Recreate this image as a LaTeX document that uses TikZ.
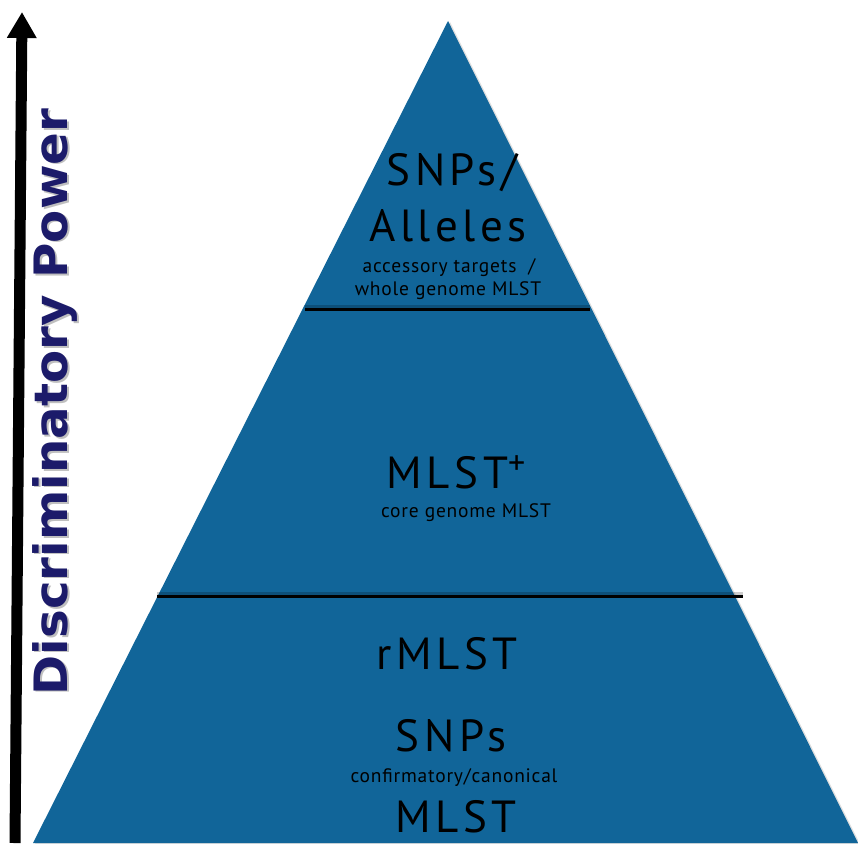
\documentclass[tikz,border=0pt]{standalone}
\usepackage{fontspec}
\setmainfont{PT Sans}
\newfontfamily\bigf[LetterSpace=10]{PT Sans}
\newfontfamily\smallf[LetterSpace=4]{PT Sans}
\newfontfamily\dpf{DejaVu Sans}
\usetikzlibrary{arrows.meta}
\definecolor{pyr}{RGB}{17,101,153}
\definecolor{navy}{RGB}{28,27,106}
\begin{document}
\begin{tikzpicture}[x=1pt,y=-1pt,
  big/.style={font=\bigf\fontsize{45}{45}\selectfont, anchor=base, inner sep=0pt, text=black},
  small/.style={font=\smallf\fontsize{19.5}{19.5}\selectfont, anchor=base, inner sep=0pt, text=black},
  divider/.style={line width=3pt, black},
  dshadow/.style={line width=3pt, black, opacity=0.2},
  axislabel/.style={rotate=90, font=\dpf\bfseries\fontsize{46}{46}\selectfont, inner sep=0pt}]
\useasboundingbox (0,0) rectangle (858,843);
% pyramid
\coordinate (apex) at (448,21);
\coordinate (bl) at (33,843);
\coordinate (br) at (858,843);
\fill[gray, opacity=0.25] ([shift={(2,1)}]apex) -- ([shift={(2,1)}]br) -- ([shift={(2,1)}]bl) -- cycle;
\fill[pyr] (apex) -- (br) -- (bl) -- cycle;
% dividers
\coordinate (d1l) at (305,309); \coordinate (d1r) at (590,309);
\coordinate (d2l) at (157,596); \coordinate (d2r) at (743,596);
\draw[dshadow] ([yshift=3]d1l) -- ([yshift=3]d1r);
\draw[dshadow] ([yshift=3]d2l) -- ([yshift=3]d2r);
\draw[divider] (d1l) -- (d1r);
\draw[divider] (d2l) -- (d2r);
% arrow
\coordinate (abot) at (15,843);
\coordinate (atop) at (22,12);
\draw[line width=11pt, -{Triangle[width=28pt,length=26pt]}] (abot) -- (atop);
% axis label
\node[axislabel, text=black, opacity=0.25] (dpsh) at (57,403.5) {\scalebox{1.05}[1]{Discriminatory Power}};
\node[axislabel, text=navy] (dp) at (55,402) {\scalebox{1.05}[1]{Discriminatory Power}};
% texts
\node[big] (t1) at (452,185) {SNPs/};
\node[big] (t2) at (448,241) {Alleles};
\node[small] (t3) at (449,272) {accessory targets~~/};
\node[small] (t4) at (448,295) {whole genome MLST};
\node[big] (t5) at (456,488) {MLST\raisebox{0.3em}{\fontsize{34}{34}\selectfont +}};
\node[small] (t6) at (466,517) {core genome MLST};
\node[big] (t7) at (447,669) {rMLST};
\node[big] (t8) at (451,751) {SNPs};
\node[small] (t9) at (454,782) {confirmatory/canonical};
\node[big] (t10) at (456,832) {MLST};
\end{tikzpicture}
\end{document}
